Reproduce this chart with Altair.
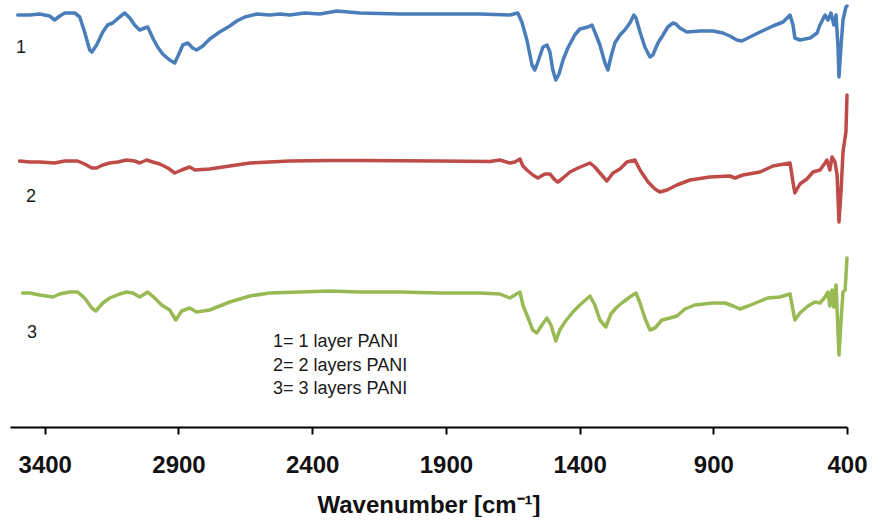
import altair as alt
import pandas as pd

# Wavenumber (cm-1) and offset transmittance (a.u.)
wn_1 = [3501, 3456, 3419, 3382, 3363, 3344, 3325, 3288, 3269, 3251, 3232, 3224, 3206, 3183, 3165, 3146,
        3120, 3101, 3082, 3064, 3045, 3026, 3015, 2996, 2978, 2959, 2933, 2914, 2895, 2884, 2865, 2847,
        2832, 2809, 2783, 2746, 2708, 2682, 2652, 2607, 2559, 2521, 2484, 2428, 2371, 2308, 2222, 2072,
        1923, 1773, 1661, 1631, 1616, 1597, 1578, 1567, 1556, 1537, 1522, 1511, 1500, 1489, 1477, 1462,
        1444, 1418, 1399, 1369, 1354, 1343, 1324, 1305, 1294, 1283, 1268, 1249, 1231, 1212, 1197, 1189,
        1174, 1156, 1137, 1126, 1107, 1088, 1070, 1051, 1040, 1025, 999, 950, 901, 864, 838, 812, 793,
        763, 725, 677, 639, 613, 602, 595, 576, 538, 512, 501, 482, 471, 460, 449, 441, 434, 430, 422,
        415, 404, 400]
t_1 = [412, 412, 413, 411, 407, 411, 414, 414, 410, 395, 377, 375, 382, 395, 402, 404,
       410, 414, 409, 402, 397, 399, 400, 389, 380, 373, 367, 364, 375, 382, 384, 379,
       377, 381, 388, 395, 401, 406, 410, 413, 412, 413, 412, 414, 413, 416, 414, 413,
       413, 413, 412, 414, 405, 387, 362, 357, 365, 380, 382, 375, 357, 347, 353, 367,
       379, 392, 398, 400, 402, 395, 382, 364, 357, 370, 384, 392, 397, 404, 412, 409,
       395, 380, 370, 372, 384, 392, 400, 404, 403, 399, 395, 396, 396, 394, 391, 387, 386,
       390, 395, 401, 405, 412, 402, 389, 387, 389, 394, 402, 412, 407, 414, 402, 412, 382, 350, 382,
       407, 420, 421]

wn_2 = [3494, 3456, 3419, 3363, 3325, 3277, 3251, 3224, 3206, 3183, 3157, 3127, 3094, 3064, 3045, 3019,
        2996, 2970, 2940, 2914, 2888, 2858, 2839, 2783, 2708, 2633, 2559, 2484, 2334, 2222, 1923, 1736,
        1698, 1661, 1642, 1623, 1612, 1597, 1575, 1556, 1530, 1511, 1492, 1481, 1462, 1436, 1406, 1361,
        1343, 1324, 1298, 1275, 1249, 1223, 1193, 1174, 1144, 1118, 1100, 1073, 1036, 987, 913, 838,
        819, 789, 725, 677, 613, 602, 595, 576, 550, 527, 501, 482, 475, 464, 456, 445, 437, 430, 422,
        415, 404, 400]
t_2 = [266, 265, 265, 264, 266, 266, 263, 259, 259, 262, 264, 265, 267, 266, 264, 267,
       265, 263, 259, 254, 257, 260, 257, 258, 261, 264, 265, 266, 266.5, 266.5, 266, 265.5,
       267, 264, 265, 268, 261, 257, 252, 249, 253, 253, 247, 245, 249, 255, 259, 264,
       260, 254, 246, 254, 258, 265, 267, 257, 245, 238, 235, 237, 242, 247, 250, 251,
       249, 252, 255, 261, 264, 245, 234, 243, 248, 255, 257, 264, 267, 257, 270, 265, 252, 205, 237,
       275, 295, 332]

wn_3 = [3483, 3456, 3419, 3370, 3344, 3307, 3277, 3251, 3224, 3209, 3183, 3157, 3120, 3094, 3071, 3045,
        3015, 2989, 2963, 2933, 2910, 2888, 2858, 2832, 2783, 2708, 2633, 2559, 2446, 2334, 2222, 2072,
        1923, 1773, 1698, 1661, 1623, 1612, 1597, 1575, 1560, 1541, 1522, 1507, 1489, 1474, 1455, 1425,
        1399, 1361, 1343, 1324, 1302, 1283, 1264, 1242, 1212, 1189, 1174, 1156, 1137, 1118, 1092, 1062,
        1036, 1006, 969, 901, 856, 826, 800, 770, 733, 696, 651, 613, 602, 595, 576, 546, 520, 501,
        482, 471, 464, 456, 449, 441, 430, 422, 415, 407, 400]
t_3 = [134, 134, 132, 130, 133, 135, 135, 129, 119, 116, 124, 129, 133, 135, 134, 130,
       135, 129, 122, 117, 107, 116, 119, 115, 117, 125, 131, 134, 135, 136, 135, 135,
       134, 134, 133, 129, 135, 122, 112, 97, 94, 102, 109, 102, 86, 97, 105, 115,
       122, 131, 122, 107, 100, 113, 119, 124, 130, 134, 124, 109, 97, 99, 107, 109,
       111, 118, 122, 124, 124, 121, 118, 121, 125, 129, 130, 133, 117, 107, 114, 121, 125, 124,
       130, 135, 121, 137, 120, 142, 72, 107, 135, 137, 169]

series_names = ["1", "2", "3"]
series_colors = ["#4A7EBB", "#BE4B48", "#98B954"]
tick_values = [3400, 2900, 2400, 1900, 1400, 900, 400]
legend_lines = ["1= 1 layer PANI", "2= 2 layers PANI", "3= 3 layers PANI"]

frames = []
for name, wn, t in zip(series_names, [wn_1, wn_2, wn_3], [t_1, t_2, t_3]):
    frames.append(pd.DataFrame({"wn": wn, "t": t, "series": name}))
df = pd.concat(frames, ignore_index=True)

x_enc = alt.X("wn:Q",
              scale=alt.Scale(domain=[400, 3530], reverse=True, nice=False, zero=False),
              axis=alt.Axis(values=tick_values, title="Wavenumber [cm⁻¹]", grid=False,
                            domainColor="black", domainWidth=2, tickColor="black", tickWidth=2,
                            tickSize=7, labelFont="Liberation Sans", labelFontSize=24,
                            labelFontWeight="bold", labelColor="#111", labelPadding=19,
                            labelFlush=False, format="d",
                            titleFont="Liberation Sans", titleFontSize=24, titleFontWeight="bold",
                            titleColor="#111", titleBaseline="alphabetic", titleY=85))

lines = alt.Chart(df).mark_line(strokeWidth=3.5, strokeJoin="round", strokeCap="round").encode(
    x=x_enc,
    y=alt.Y("t:Q", scale=alt.Scale(domain=[0, 427], nice=False, zero=True), axis=None),
    color=alt.Color("series:N", scale=alt.Scale(domain=series_names, range=series_colors), legend=None),
    detail="series:N",
)

lab_df = pd.DataFrame({"label": series_names})
curve_labels = alt.Chart(lab_df).transform_filter("datum.label == '1'").mark_text(
    font="Liberation Sans", fontSize=18, color="#1a1a1a", align="center", baseline="alphabetic"
).encode(text="label:N", x=alt.value(11), y=alt.value(53))
curve_labels2 = alt.Chart(lab_df).transform_filter("datum.label == '2'").mark_text(
    font="Liberation Sans", fontSize=18, color="#1a1a1a", align="center", baseline="alphabetic"
).encode(text="label:N", x=alt.value(21), y=alt.value(202))
curve_labels3 = alt.Chart(lab_df).transform_filter("datum.label == '3'").mark_text(
    font="Liberation Sans", fontSize=18, color="#1a1a1a", align="center", baseline="alphabetic"
).encode(text="label:N", x=alt.value(22), y=alt.value(338))

legend_text = alt.Chart(pd.DataFrame({"k": [0]})).mark_text(
    font="Liberation Sans", fontSize=18, color="#1a1a1a", align="left", baseline="alphabetic",
    lineHeight=23.5, text=legend_lines
).encode(x=alt.value(263), y=alt.value(347))

chart = alt.layer(lines, curve_labels, curve_labels2, curve_labels3, legend_text).properties(
    width=837, height=427, padding={"left": 10, "top": 0, "right": 0, "bottom": 0},
    background="white"
).configure_view(stroke=None, strokeWidth=0)

chart.save("out.html", embed_options={"renderer": "svg", "actions": False})
